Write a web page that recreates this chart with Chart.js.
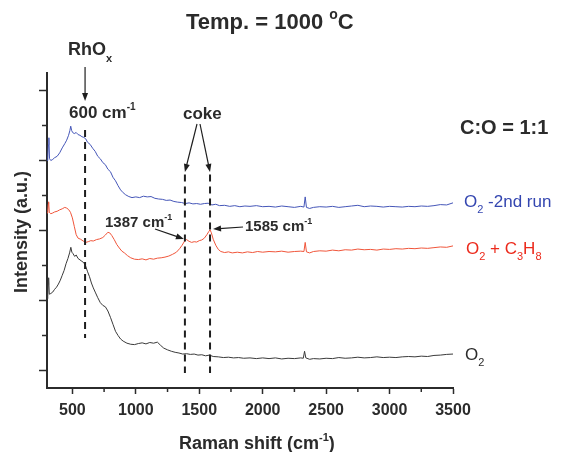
<!DOCTYPE html>
<html>
<head>
<meta charset="utf-8">
<script src="https://cdn.jsdelivr.net/npm/chart.js@4.4.1/dist/chart.umd.min.js"></script>
<style>
  body { margin: 0; background: #fff; }
  #wrap { width: 563px; height: 452px; }
</style>
</head>
<body>
<div id="wrap"><canvas id="myChart" width="563" height="452"></canvas></div>
<script>
// Raman spectra at 1000 C (arbitrary intensity units)
const runShift = [300,306,311,315,320,330,345,360,380,400,420,440,455,470,480,487,494,502,515,530,545,560,575,590,605,620,640,660,680,700,720,740,760,780,800,820,840,860,880,900,920,945,970,1000,1030,1060,1090,1120,1150,1180,1210,1240,1270,1300,1330,1360,1390,1420,1450,1480,1510,1540,1570,1600,1630,1660,1700,1740,1780,1820,1860,1900,1950,2000,2050,2100,2150,2200,2250,2300,2325,2335,2345,2370,2400,2450,2500,2550,2600,2650,2700,2750,2800,2850,2900,2950,3000,3050,3100,3150,3200,3250,3300,3350,3400,3450,3500];
const runIntensity = [6.50,6.55,6.95,7.15,6.55,6.50,6.53,6.58,6.62,6.72,6.86,6.98,7.08,7.22,7.35,7.48,7.36,7.30,7.27,7.30,7.24,7.22,7.18,7.16,7.12,7.02,6.96,6.85,6.76,6.62,6.55,6.44,6.38,6.25,6.18,6.02,5.92,5.78,5.66,5.58,5.52,5.47,5.44,5.46,5.44,5.48,5.46,5.47,5.42,5.40,5.39,5.36,5.37,5.33,5.31,5.30,5.27,5.29,5.26,5.27,5.25,5.27,5.28,5.23,5.25,5.21,5.22,5.19,5.21,5.18,5.20,5.19,5.21,5.18,5.19,5.17,5.20,5.18,5.16,5.19,5.17,5.46,5.16,5.13,5.16,5.18,5.17,5.19,5.16,5.18,5.20,5.22,5.18,5.20,5.19,5.17,5.19,5.18,5.17,5.19,5.18,5.20,5.19,5.21,5.24,5.23,5.29];

const propShift = [300,306,310,313,318,330,345,360,380,400,420,440,455,470,485,500,515,530,545,565,585,605,625,645,665,690,715,740,760,780,795,810,830,850,870,890,910,935,960,990,1020,1050,1080,1110,1140,1170,1200,1230,1260,1290,1320,1345,1365,1385,1400,1420,1440,1460,1480,1500,1520,1540,1560,1575,1585,1595,1610,1630,1650,1670,1700,1730,1760,1800,1840,1880,1920,1960,2000,2050,2100,2150,2200,2250,2300,2325,2335,2345,2370,2400,2450,2500,2550,2600,2650,2700,2750,2800,2850,2900,2950,3000,3050,3100,3150,3200,3250,3300,3350,3400,3450,3500];
const propIntensity = [5.00,5.04,5.25,5.32,5.02,4.98,5.00,5.03,5.05,5.09,5.12,5.16,5.14,5.10,5.02,4.86,4.62,4.38,4.28,4.25,4.20,4.16,4.18,4.21,4.20,4.24,4.26,4.30,4.37,4.45,4.43,4.36,4.24,4.10,4.00,3.91,3.86,3.78,3.72,3.68,3.67,3.69,3.66,3.70,3.68,3.71,3.72,3.74,3.77,3.82,3.88,3.98,4.08,4.20,4.24,4.19,4.16,4.18,4.17,4.21,4.23,4.28,4.38,4.47,4.52,4.44,4.25,4.08,3.96,3.90,3.87,3.89,3.86,3.88,3.86,3.89,3.87,3.90,3.88,3.90,3.89,3.91,3.88,3.90,3.91,3.90,4.16,3.89,3.86,3.90,3.92,3.91,3.94,3.92,3.95,3.94,3.97,3.95,3.96,3.94,3.97,3.96,3.98,3.97,3.99,3.98,4.00,3.99,4.01,4.03,4.02,4.06];

const o2Shift = [300,306,310,313,318,330,345,360,375,390,405,420,435,450,465,478,488,496,505,518,530,545,560,575,590,605,620,635,650,665,680,700,720,740,760,780,800,820,840,860,880,900,930,960,990,1020,1050,1080,1110,1140,1170,1195,1220,1250,1280,1310,1340,1370,1400,1430,1460,1490,1520,1550,1580,1610,1650,1690,1730,1770,1810,1850,1900,1950,2000,2050,2100,2150,2200,2250,2300,2320,2330,2340,2370,2400,2450,2500,2550,2600,2650,2700,2750,2800,2850,2900,2950,3000,3050,3100,3150,3200,3250,3300,3350,3400,3450,3500];
const o2Intensity = [2.55,2.62,2.95,3.15,2.68,2.70,2.74,2.82,2.88,2.97,3.08,3.22,3.36,3.55,3.70,3.86,4.02,3.88,3.84,3.76,3.80,3.70,3.66,3.62,3.58,3.48,3.32,3.18,3.00,2.86,2.74,2.58,2.44,2.36,2.32,2.20,2.02,1.82,1.62,1.50,1.40,1.34,1.28,1.25,1.24,1.27,1.29,1.26,1.30,1.28,1.31,1.22,1.14,1.09,1.05,1.02,1.00,0.97,0.98,0.96,0.97,0.94,0.95,0.92,0.94,0.90,0.89,0.87,0.88,0.86,0.87,0.85,0.86,0.84,0.86,0.84,0.86,0.83,0.85,0.84,0.86,0.85,1.05,0.86,0.82,0.84,0.83,0.85,0.84,0.87,0.85,0.86,0.88,0.86,0.87,0.89,0.87,0.88,0.87,0.89,0.90,0.89,0.91,0.90,0.93,0.94,0.96,0.97];

const xTicks = [500, 1000, 1500, 2000, 2500, 3000, 3500];
const xMinorTicks = [750, 1250, 1750, 2250, 2750, 3250];
const yTicks = [0.5, 2.5, 4.5, 6.5, 8.5];
const yMinorTicks = [1.5, 3.5, 5.5, 7.5];

const FONT = "'Liberation Sans', Arial, sans-serif";
const INK = "#2b2b2b";

function pts(xs, ys) {
  return xs.map((x, i) => ({ x: x, y: ys[i] }));
}

// draws text pieces one after another; sub/superscripts as smaller raised/lowered pieces
function rich(ctx, parts, x, y, color) {
  ctx.fillStyle = color || INK;
  ctx.textBaseline = "alphabetic";
  ctx.textAlign = "left";
  let cx = x;
  parts.forEach((p) => {
    ctx.font = (p.w || "bold") + " " + p.s + "px " + FONT;
    ctx.fillText(p.t, cx, y + (p.dy || 0));
    cx += ctx.measureText(p.t).width;
  });
  return cx - x;
}

function arrow(ctx, x1, y1, x2, y2) {
  const a = Math.atan2(y2 - y1, x2 - x1);
  const len = 8, half = 3;
  ctx.beginPath();
  ctx.moveTo(x1, y1);
  ctx.lineTo(x2 - Math.cos(a) * len * 0.8, y2 - Math.sin(a) * len * 0.8);
  ctx.stroke();
  ctx.beginPath();
  ctx.moveTo(x2, y2);
  ctx.lineTo(x2 - Math.cos(a) * len - Math.sin(a) * half, y2 - Math.sin(a) * len + Math.cos(a) * half);
  ctx.lineTo(x2 - Math.cos(a) * len + Math.sin(a) * half, y2 - Math.sin(a) * len - Math.cos(a) * half);
  ctx.closePath();
  ctx.fill();
}

const annotations = {
  id: "annotations",
  afterDatasetsDraw: (chart) => {
    const { ctx, scales } = chart;
    const x = scales.x, y = scales.y;
    const px = (v) => x.getPixelForValue(v);
    const py = (v) => y.getPixelForValue(v);
    ctx.save();

    // minor ticks
    ctx.strokeStyle = INK;
    ctx.lineWidth = 1.5;
    xMinorTicks.forEach((v) => {
      ctx.beginPath();
      ctx.moveTo(px(v), chart.chartArea.bottom);
      ctx.lineTo(px(v), chart.chartArea.bottom + 4);
      ctx.stroke();
    });
    yMinorTicks.forEach((v) => {
      ctx.beginPath();
      ctx.moveTo(chart.chartArea.left - 5, py(v));
      ctx.lineTo(chart.chartArea.left, py(v));
      ctx.stroke();
    });

    // dashed markers
    ctx.strokeStyle = "#1e1e1e";
    ctx.lineWidth = 2;
    ctx.setLineDash([7, 5]);
    [[600, 7.37, 1.43], [1387, 6.1, 0.43], [1585, 6.1, 0.43]].forEach((m) => {
      ctx.beginPath();
      ctx.moveTo(px(m[0]), py(m[1]));
      ctx.lineTo(px(m[0]), py(m[2]));
      ctx.stroke();
    });
    ctx.setLineDash([]);

    // arrows
    ctx.strokeStyle = "#1e1e1e";
    ctx.fillStyle = "#1e1e1e";
    ctx.lineWidth = 1.2;
    arrow(ctx, px(600), 67, px(600), py(8.2));
    arrow(ctx, 197, 124, px(1387), py(6.17));
    arrow(ctx, 200, 124, px(1585), py(6.17));
    arrow(ctx, 155, 229, px(1387) - 1, py(4.26));
    arrow(ctx, 243, 227, px(1585) + 3, py(4.54));

    // labels
    rich(ctx, [{ t: "Temp. = 1000 ", s: 22 }, { t: "o", s: 14, dy: -10 }, { t: "C", s: 22 }], 186, 29);
    rich(ctx, [{ t: "RhO", s: 18 }, { t: "x", s: 11, dy: 7 }], 68, 55);
    rich(ctx, [{ t: "600 cm", s: 17 }, { t: "-1", s: 10, dy: -8 }], 69, 118);
    rich(ctx, [{ t: "coke", s: 17 }], 183, 119);
    rich(ctx, [{ t: "1387 cm", s: 15 }, { t: "-1", s: 9, dy: -7 }], 105, 227);
    rich(ctx, [{ t: "1585 cm", s: 15 }, { t: "-1", s: 9, dy: -7 }], 245, 231);
    rich(ctx, [{ t: "C:O = 1:1", s: 20 }], 460, 134);
    rich(ctx, [{ t: "O", s: 17, w: "normal" }, { t: "2", s: 11, dy: 6, w: "normal" }, { t: " -2nd run", s: 17, w: "normal" }], 464, 207, "#3446b0");
    rich(ctx, [{ t: "O", s: 17, w: "normal" }, { t: "2", s: 11, dy: 6, w: "normal" }, { t: " + C", s: 17, w: "normal" },
               { t: "3", s: 11, dy: 6, w: "normal" }, { t: "H", s: 17, w: "normal" }, { t: "8", s: 11, dy: 6, w: "normal" }], 466, 254, "#ec2a1c");
    rich(ctx, [{ t: "O", s: 17, w: "normal" }, { t: "2", s: 11, dy: 6, w: "normal" }], 465, 360, INK);

    // axis titles
    rich(ctx, [{ t: "Raman shift (cm", s: 18 }, { t: "-1", s: 11, dy: -8 }, { t: ")", s: 18 }], 179, 449);

    ctx.translate(27, 232);
    ctx.rotate(-Math.PI / 2);
    ctx.font = "bold 18px " + FONT;
    ctx.fillStyle = INK;
    ctx.textAlign = "center";
    ctx.textBaseline = "alphabetic";
    ctx.fillText("Intensity (a.u.)", 0, 0);
    ctx.restore();
  },
};

new Chart(document.getElementById("myChart"), {
  type: "line",
  data: {
    datasets: [
      { label: "O2 -2nd run", data: pts(runShift, runIntensity), borderColor: "#4556b8", borderWidth: 1 },
      { label: "O2 + C3H8", data: pts(propShift, propIntensity), borderColor: "#f0553a", borderWidth: 1 },
      { label: "O2", data: pts(o2Shift, o2Intensity), borderColor: "#3a3a3a", borderWidth: 1 },
    ],
  },
  options: {
    responsive: false,
    animation: false,
    layout: { padding: { top: 73, right: 110, left: 0, bottom: 0 } },
    elements: { point: { radius: 0 }, line: { tension: 0 } },
    plugins: { legend: { display: false }, tooltip: { enabled: false }, title: { display: false } },
    scales: {
      x: {
        type: "linear",
        min: 300,
        max: 3500,
        afterBuildTicks: (s) => { s.ticks = xTicks.map((v) => ({ value: v })); },
        afterFit: (s) => { s.height = 64; },
        grid: { drawOnChartArea: false, tickLength: 6, tickColor: INK, tickWidth: 1.5 },
        border: { color: INK, width: 2 },
        ticks: {
          callback: (v) => String(v),
          color: INK, padding: 7, maxRotation: 0,
          font: { family: FONT, size: 16, weight: "bold" },
        },
      },
      y: {
        min: 0,
        max: 9,
        afterBuildTicks: (s) => { s.ticks = yTicks.map((v) => ({ value: v })); },
        afterFit: (s) => { s.width = 47; },
        grid: { drawOnChartArea: false, tickLength: 8, tickColor: INK, tickWidth: 1.5 },
        border: { color: INK, width: 2 },
        ticks: { callback: () => "", padding: 0 },
      },
    },
  },
  plugins: [annotations],
});
</script>
</body>
</html>
